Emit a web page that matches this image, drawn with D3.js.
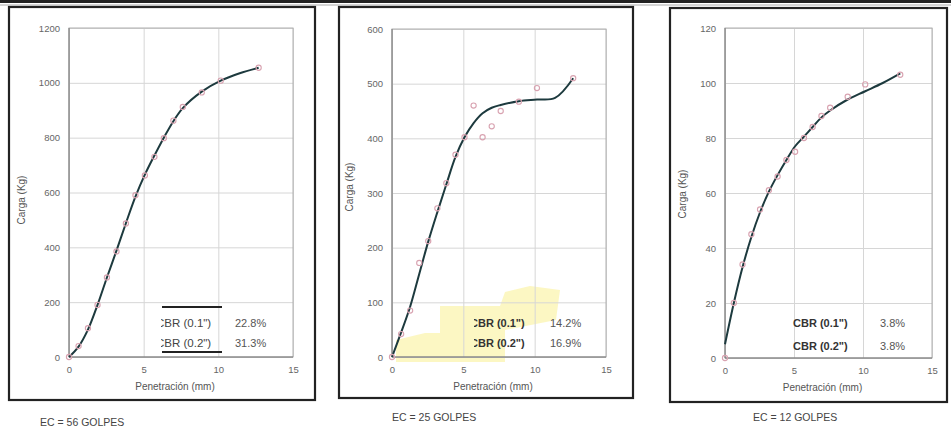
<!DOCTYPE html>
<html><head><meta charset="utf-8">
<script src="https://cdn.jsdelivr.net/npm/d3@7"></script>
<style>body{margin:0;background:#fff}svg{display:block;font-family:"Liberation Sans",Arial,sans-serif}</style>
</head><body>
<svg id="c" width="951" height="428"></svg>
<script>
// ---- data ----
const penetration = [0, 0.64, 1.27, 1.91, 2.54, 3.18, 3.81, 4.45, 5.08, 5.72, 6.35, 6.99, 7.62, 8.89, 10.16, 12.7];
const fitPenetration = [0, 0.64, 1.27, 1.91, 2.54, 3.18, 3.81, 4.45, 5.08, 5.72, 6.35, 6.99, 7.62, 8.89, 10.16, 11.43, 12.7];

const load56 = [0, 40, 105, 190, 290, 385, 487, 590, 662, 730, 798, 862, 912, 965, 1008, 1055];
const fit56  = [0, 38, 100, 190, 290, 388, 488, 585, 665, 735, 800, 860, 908, 968, 1008, 1035, 1055];

const load25 = [0, 42, 85, 172, 212, 272, 318, 370, 402, 460, 402, 422, 450, 467, 492, 510];
const fit25  = [0, 45, 92, 152, 211, 265, 316, 366, 402, 428, 446, 456, 461, 468, 471, 474, 510];

const load12 = [0, 20, 34, 45, 54, 61, 66, 72, 75, 80, 84, 88, 91, 95, 99.5, 103];
const fit12  = [5, 20, 33, 44, 53, 60.5, 66.5, 72, 77, 80.5, 84, 87.5, 90, 94, 97, 100, 103.5];

const xTicks = [0, 5, 10, 15];
const yTicks56 = [0, 200, 400, 600, 800, 1000, 1200];
const yTicks25 = [0, 100, 200, 300, 400, 500, 600];
const yTicks12 = [0, 20, 40, 60, 80, 100, 120];

const cbrLabels = ['CBR (0.1")', 'CBR (0.2")'];
const cbr56 = ['22.8%', '31.3%'];
const cbr25 = ['14.2%', '16.9%'];
const cbr12 = ['3.8%', '3.8%'];
const ecLabels = ['EC = 56 GOLPES', 'EC = 25 GOLPES', 'EC = 12 GOLPES'];

const xTitle = 'Penetración (mm)';
const yTitle = 'Carga (Kg)';

// ---- layout ----
const panels = [
  {pts: load56, fit: fit56, yt: yTicks56, ymax: 1200, cbr: cbr56, ec: ecLabels[0],
   box: [9, 7, 315, 400], px: [69, 293], py: [357, 28], ylab: [25, 200],
   leg: {x: 156, clip: 161, vx: 235, y1: 327, y2: 347, bold: false, lines: true}, ecPos: [40, 426]},
  {pts: load25, fit: fit25, yt: yTicks25, ymax: 600, cbr: cbr25, ec: ecLabels[1],
   box: [339, 7, 633, 398], px: [392, 606], py: [357, 29], ylab: [353, 187],
   leg: {x: 470, clip: 474, vx: 550, y1: 327, y2: 347, bold: true, lines: false}, ecPos: [392, 421]},
  {pts: load12, fit: fit12, yt: yTicks12, ymax: 120, cbr: cbr12, ec: ecLabels[2],
   box: [670, 8, 947, 402], px: [725, 932], py: [358, 28], ylab: [686, 194],
   leg: {x: 793, clip: 0, vx: 880, y1: 327, y2: 350, bold: true, lines: false}, ecPos: [753, 421]}
];

const svg = d3.select('#c');
const defs = svg.append('defs');

// top rule
svg.append('rect').attr('x', 0).attr('y', 0).attr('width', 951).attr('height', 3).attr('fill', '#222');
svg.append('line').attr('x1', 0).attr('x2', 951).attr('y1', 5).attr('y2', 5).attr('stroke', '#aaa').attr('stroke-width', 1);

// faint watermark patch in the middle panel
svg.append('path')
  .attr('d', 'M396,340 L425,333 L440,333 L440,306 L500,306 L505,292 L530,286 L560,290 L556,320 L505,330 L505,362 L396,362 Z')
  .attr('fill', '#fbf5b4').attr('opacity', 0.8);

panels.forEach((p, i) => {
  const g = svg.append('g');
  // panel box
  g.append('rect').attr('x', p.box[0]).attr('y', p.box[1])
    .attr('width', p.box[2] - p.box[0]).attr('height', p.box[3] - p.box[1])
    .attr('fill', 'none').attr('stroke', '#222').attr('stroke-width', 2.2);

  const x = d3.scaleLinear().domain([0, 15]).range(p.px);
  const y = d3.scaleLinear().domain([0, p.ymax]).range(p.py);
  const w = p.px[1] - p.px[0], h = p.py[0] - p.py[1];

  // grid
  g.append('g').attr('transform', `translate(0,${p.py[0]})`)
    .call(d3.axisBottom(x).tickValues(xTicks).tickSize(-h).tickFormat(''))
    .call(a => a.select('.domain').remove())
    .selectAll('line').attr('stroke', '#d6d6d6');
  g.append('g').attr('transform', `translate(${p.px[0]},0)`)
    .call(d3.axisLeft(y).tickValues(p.yt).tickSize(-w).tickFormat(''))
    .call(a => a.select('.domain').remove())
    .selectAll('line').attr('stroke', '#d6d6d6');

  // plot frame
  g.append('rect').attr('x', p.px[0]).attr('y', p.py[1]).attr('width', w).attr('height', h)
    .attr('fill', 'none').attr('stroke', '#b0b0b0').attr('stroke-width', 1);
  g.append('line').attr('x1', p.px[0]).attr('x2', p.px[0]).attr('y1', p.py[1]).attr('y2', p.py[0])
    .attr('stroke', '#777');
  g.append('line').attr('x1', p.px[0]).attr('x2', p.px[1]).attr('y1', p.py[0]).attr('y2', p.py[0])
    .attr('stroke', '#777');

  // tick labels
  const fmt = d3.format('d');
  const xa = g.append('g').attr('transform', `translate(0,${p.py[0]})`)
    .call(d3.axisBottom(x).tickValues(xTicks).tickSize(0).tickPadding(9).tickFormat(fmt));
  const ya = g.append('g').attr('transform', `translate(${p.px[0]},0)`)
    .call(d3.axisLeft(y).tickValues(p.yt).tickSize(0).tickPadding(9).tickFormat(fmt));
  [xa, ya].forEach(a => {
    a.select('.domain').remove();
    a.selectAll('text').attr('font-size', 9.5).attr('fill', '#666')
      .attr('font-family', '"Liberation Sans",Arial,sans-serif');
  });

  // titles
  g.append('text').attr('x', (p.px[0] + p.px[1]) / 2 - 6).attr('y', p.py[0] + 33)
    .attr('text-anchor', 'middle').attr('font-size', 10).attr('fill', '#555').text(xTitle);
  g.append('text').attr('transform', `translate(${p.ylab[0]},${p.ylab[1]}) rotate(-90)`)
    .attr('text-anchor', 'middle').attr('font-size', 10).attr('fill', '#555').text(yTitle);

  // fitted curve
  const line = d3.line().x((d, k) => x(fitPenetration[k])).y(d => y(d)).curve(d3.curveCatmullRom.alpha(0.5));
  g.append('path').datum(p.fit).attr('d', line).attr('fill', 'none')
    .attr('stroke', '#1d3a3e').attr('stroke-width', 2);

  // data points
  g.selectAll('circle.pt').data(p.pts).join('circle').attr('class', 'pt')
    .attr('cx', (d, k) => x(penetration[k])).attr('cy', d => y(d)).attr('r', 2.6)
    .attr('fill', 'none').attr('stroke', '#d8a2b0').attr('stroke-width', 1.1);

  // legend (CBR values)
  const L = p.leg;
  let tg = g.append('g');
  if (L.clip) {
    const id = 'clip' + i;
    defs.append('clipPath').attr('id', id).append('rect')
      .attr('x', L.clip).attr('y', L.y1 - 15).attr('width', 200).attr('height', 40);
    tg.attr('clip-path', `url(#${id})`);
  }
  const fs = L.bold ? 11 : 11.5;
  [L.y1, L.y2].forEach((yy, k) => {
    tg.append('text').attr('x', L.x).attr('y', yy).attr('font-size', fs)
      .attr('font-weight', L.bold ? 'bold' : 'normal').attr('fill', L.bold ? '#333' : '#444').text(cbrLabels[k]);
    g.append('text').attr('x', L.vx).attr('y', yy).attr('font-size', 11).attr('fill', '#555').text(p.cbr[k]);
  });
  if (L.lines) {
    g.append('line').attr('x1', L.clip + 1).attr('x2', L.clip + 61).attr('y1', 307).attr('y2', 307)
      .attr('stroke', '#222').attr('stroke-width', 2);
    g.append('line').attr('x1', L.clip + 1).attr('x2', L.clip + 61).attr('y1', 352).attr('y2', 352)
      .attr('stroke', '#222').attr('stroke-width', 2);
  }

  // EC label
  g.append('text').attr('x', p.ecPos[0]).attr('y', p.ecPos[1]).attr('font-size', 10.5)
    .attr('fill', '#444').text(p.ec);
});
</script>
</body></html>
